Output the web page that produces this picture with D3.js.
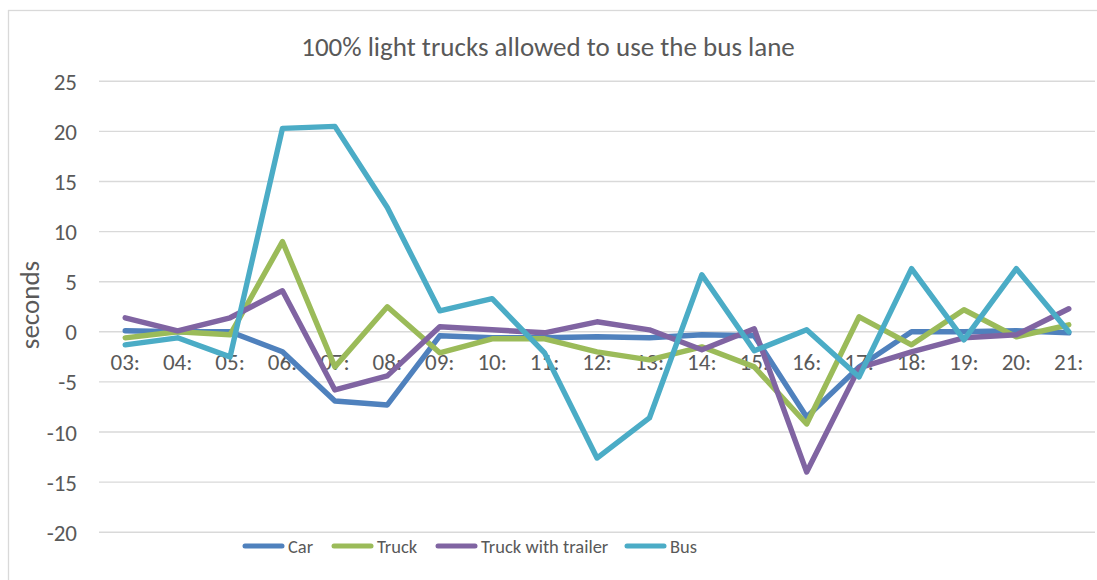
<!DOCTYPE html>
<html>
<head>
<meta charset="utf-8">
<script src="https://cdn.jsdelivr.net/npm/d3@7"></script>
<style>
  html, body { margin: 0; padding: 0; background: #fff; }
  svg { display: block; }
  text { font-family: Carlito, Calibri, "Liberation Sans", Arial, sans-serif; fill: #595959; }
</style>
</head>
<body>
<svg id="chart" width="1097" height="580"></svg>
<script>
const categories = ["03:", "04:", "05:", "06:", "07:", "08:", "09:", "10:", "11:", "12:", "13:", "14:", "15:", "16:", "17:", "18:", "19:", "20:", "21:"];
const car = [0.1, 0.0, 0.0, -2.0, -6.9, -7.3, -0.4, -0.6, -0.6, -0.5, -0.6, -0.3, -0.4, -8.5, -3.5, 0.0, 0.0, 0.1, -0.1];
const truck = [-0.6, 0.0, -0.3, 9.0, -3.5, 2.5, -2.1, -0.7, -0.7, -2.0, -2.8, -1.5, -3.5, -9.2, 1.5, -1.3, 2.2, -0.5, 0.7];
const truckWithTrailer = [1.4, 0.1, 1.4, 4.1, -5.8, -4.4, 0.5, 0.2, -0.1, 1.0, 0.2, -1.8, 0.3, -14.0, -3.6, -2.0, -0.6, -0.3, 2.3];
const bus = [-1.3, -0.6, -2.5, 20.3, 20.5, 12.4, 2.1, 3.3, -2.1, -12.6, -8.6, 5.7, -1.9, 0.2, -4.5, 6.3, -0.8, 6.3, 0.0];
const seriesNames = ["Car", "Truck", "Truck with trailer", "Bus"];
const seriesColors = ["#4f81bd", "#9bbb59", "#8064a2", "#4bacc6"];
const yTicks = [25, 20, 15, 10, 5, 0, -5, -10, -15, -20];
const title = "100% light trucks allowed to use the bus lane";
const yTitle = "seconds";

const seriesValues = [car, truck, truckWithTrailer, bus];
const svg = d3.select("#chart");

// chart frame
svg.append("rect")
  .attr("x", 8.5).attr("y", 10.5)
  .attr("width", 1100).attr("height", 600)
  .attr("fill", "none").attr("stroke", "#d9d9d9").attr("stroke-width", 1.3);

const plot = { left: 99, right: 1095, top: 81.3, bottom: 532.2 };

const x = d3.scaleBand().domain(categories).range([plot.left, plot.right]).padding(0);
const y = d3.scaleLinear().domain([-20, 25]).range([plot.bottom, plot.top]);

// gridlines
svg.append("g")
  .selectAll("line").data(yTicks).join("line")
  .attr("x1", plot.left).attr("x2", plot.right)
  .attr("y1", d => y(d)).attr("y2", d => y(d))
  .attr("stroke", "#d9d9d9").attr("stroke-width", 1.4);

// y axis labels
const yAxis = d3.axisLeft(y).tickValues(yTicks).tickSize(0).tickPadding(0).tickFormat(d => String(d));
const gy = svg.append("g").attr("transform", "translate(77,0)").call(yAxis);
gy.select(".domain").remove();
gy.selectAll("text").style("font-size", "23px").attr("fill", "#595959").attr("dy", "0.35em");

// x axis labels (next to zero line)
const xAxis = d3.axisBottom(x).tickSize(0).tickPadding(0);
const gx = svg.append("g").attr("transform", `translate(0,${y(0)})`).call(xAxis);
gx.select(".domain").remove();
gx.selectAll("text").style("font-size", "23px").attr("fill", "#595959").attr("y", 38.5).attr("dy", 0);

// lines
const line = d3.line()
  .x((d, i) => x(categories[i]) + x.bandwidth() / 2)
  .y(d => y(d));

svg.append("g")
  .selectAll("path").data(seriesValues).join("path")
  .attr("d", d => line(d))
  .attr("fill", "none")
  .attr("stroke", (d, i) => seriesColors[i])
  .attr("stroke-width", 5.4)
  .attr("stroke-linejoin", "round")
  .attr("stroke-linecap", "round");

// title
svg.append("text")
  .attr("x", 548).attr("y", 56)
  .attr("text-anchor", "middle")
  .style("font-size", "27px")
  .style("font-weight", "300")
  .text(title);

// y title
svg.append("text")
  .attr("transform", "translate(39,305) rotate(-90)")
  .attr("text-anchor", "middle")
  .style("font-size", "27px")
  .text(yTitle);

// legend
const legendX = [243, 332, 436, 625];
const lg = svg.append("g");
seriesNames.forEach((name, i) => {
  lg.append("line")
    .attr("x1", legendX[i] + 2).attr("x2", legendX[i] + 39)
    .attr("y1", 546).attr("y2", 546)
    .attr("stroke", seriesColors[i]).attr("stroke-width", 5)
    .attr("stroke-linecap", "round");
  lg.append("text")
    .attr("x", legendX[i] + 45).attr("y", 553)
    .style("font-size", "18.5px")
    .text(name);
});
</script>
</body>
</html>
